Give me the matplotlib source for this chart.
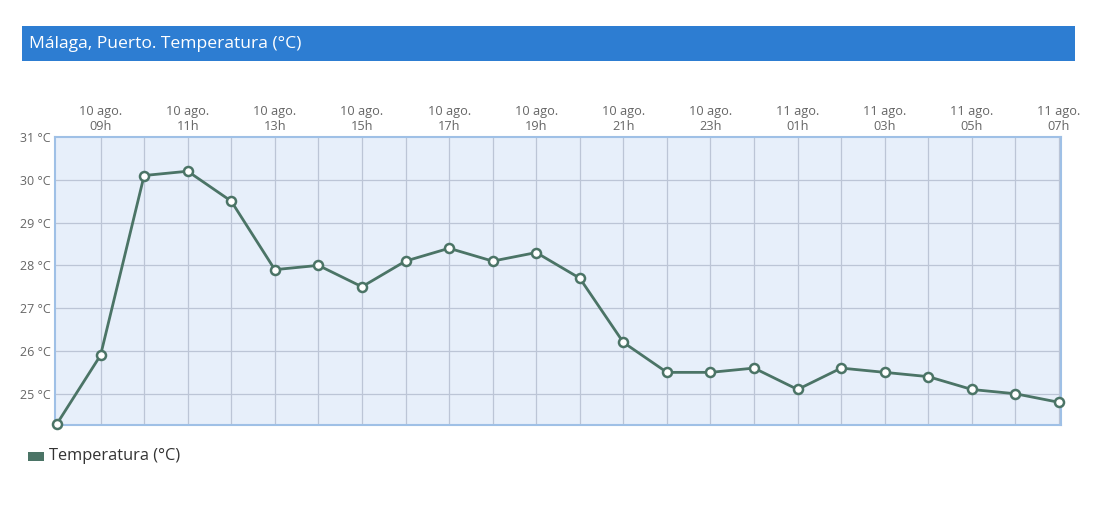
import matplotlib
matplotlib.use("Agg")
import matplotlib.pyplot as plt
from matplotlib.patches import Rectangle

hours = ["08h", "09h", "10h", "11h", "12h", "13h", "14h", "15h", "16h", "17h", "18h", "19h",
         "20h", "21h", "22h", "23h", "00h", "01h", "02h", "03h", "04h", "05h", "06h", "07h"]
days = ["10 ago."] * 16 + ["11 ago."] * 8
temps = [24.3, 25.9, 30.1, 30.2, 29.5, 27.9, 28.0, 27.5, 28.1, 28.4, 28.1, 28.3,
         27.7, 26.2, 25.5, 25.5, 25.6, 25.1, 25.6, 25.5, 25.4, 25.1, 25.0, 24.8]
yticks = [25, 26, 27, 28, 29, 30, 31]

plt.rcParams['font.family'] = ['Open Sans', 'DejaVu Sans']

W, H = 1100, 516
fig = plt.figure(figsize=(W / 100, H / 100), dpi=100)
fig.patch.set_facecolor("white")

# title bar
fig.patches.append(Rectangle((22 / W, 1 - 61 / H), (1075 - 22) / W, 35 / H,
                             transform=fig.transFigure, facecolor="#2d7dd2",
                             edgecolor="none", zorder=0))
fig.text(29 / W, 1 - 44 / H, "Málaga, Puerto. Temperatura (°C)", color="white",
         fontsize=12.6, va="center", ha="left")

ax = fig.add_axes([55 / W, 1 - 425 / H, (1061 - 55) / W, (425 - 137) / H])
ax.set_facecolor("#e7effa")
x = list(range(len(temps)))
pad = 2 / 43.57
ax.set_xlim(-pad, len(temps) - 1 + pad)
ax.set_ylim(24.27, 31)

for xi in x[1:]:
    ax.axvline(xi, color="#bcc5d6", lw=0.9, zorder=1)
for yv in yticks[:-1]:
    ax.axhline(yv, color="#bcc5d6", lw=0.9, zorder=1)

ax.plot(x, temps, color="#4b7466", lw=2, zorder=3, solid_joinstyle="round")
ax.plot(x, temps, linestyle="none", marker="o", markersize=6.5,
        markerfacecolor="white", markeredgecolor="#4b7466", markeredgewidth=1.8,
        zorder=4, clip_on=False)

ax.set_yticks(yticks)
ax.set_yticklabels([f"{v} °C" for v in yticks], color="#666666", fontsize=9)
lab_idx = [i for i in x if i % 2 == 1]
ax.set_xticks(lab_idx)
ax.set_xticklabels([f"{days[i]}\n{hours[i]}" for i in lab_idx], color="#666666",
                   fontsize=9.2, linespacing=1.15)
ax.xaxis.tick_top()
ax.tick_params(axis="both", length=0, pad=3)
for s in ax.spines.values():
    s.set_color("#9fc0e6")
    s.set_linewidth(1.5)

# legend
fig.patches.append(Rectangle((28 / W, 1 - 461 / H), 16 / W, 9 / H,
                             transform=fig.transFigure, facecolor="#4b7466",
                             edgecolor="none"))
fig.text(49 / W, 1 - 456 / H, "Temperatura (°C)", color="#333333", fontsize=11.8,
         va="center", ha="left")

fig.savefig("out.png", dpi=100, facecolor="white")
